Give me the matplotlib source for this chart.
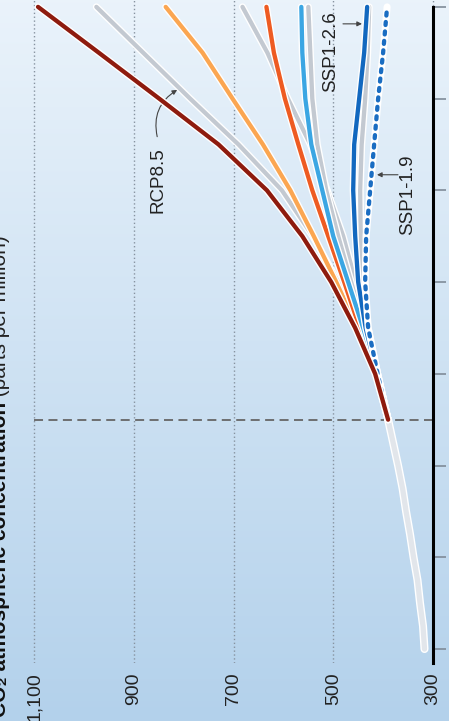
import matplotlib
matplotlib.use("Agg")
import matplotlib.pyplot as plt
import matplotlib.patheffects as pe
import numpy as np

plt.rcParams['font.family'] = ['Liberation Sans', 'DejaVu Sans']

# observed record
years_hist = [1960, 1965, 1970, 1975, 1980, 1985, 1990, 1995, 2000, 2005, 2010]
co2_hist = [317, 320, 326, 331, 339, 346, 354, 361, 370, 380, 390]

# scenario projections, one value per decade
years_proj = [2010, 2020, 2030, 2040, 2050, 2060, 2070, 2080, 2090, 2100]
ssp585 = [390, 416, 456, 504, 562, 633, 730, 849, 970, 1092]
rcp85 = [390, 414, 449, 490, 541, 603, 690, 787, 881, 975]
ssp370 = [390, 415, 452, 494, 539, 586, 641, 702, 762, 836]
rcp60 = [390, 411, 432, 455, 480, 512, 546, 591, 632, 682]
ssp245 = [390, 413, 447, 478, 510, 542, 570, 597, 619, 634]
ssp434 = [390, 412, 440, 470, 500, 522, 544, 556, 562, 564]
rcp45 = [390, 412, 438, 464, 490, 514, 532, 542, 546, 550]
ssp126 = [390, 412, 435, 450, 456, 460, 458, 448, 438, 432]
rcp26 = [390, 411, 430, 441, 445, 446, 443, 436, 431, 428]
ssp119 = [390, 411, 430, 436, 434, 426, 418, 410, 400, 392]

co2_ticks = [300, 500, 700, 900, 1100]
co2_labels = ['300', '500', '700', '900', '1,100']
year_ticks = list(range(1960, 2101, 20))

fig = plt.figure(figsize=(4.49, 7.21), dpi=100)

# background gradient
bg = fig.add_axes([0, 0, 1, 1])
top = np.array([0.918, 0.953, 0.984])
bot = np.array([0.702, 0.820, 0.922])
t = np.linspace(0, 1, 256).reshape(-1, 1, 1)
bg.imshow(top + (bot - top) * t, aspect='auto', extent=[0, 1, 0, 1])
bg.axis('off')

ax = fig.add_axes([0, 58 / 721, 1, 663 / 721])
ax.patch.set_alpha(0)
ax.set_xlim(1168.2, 267.9)
ax.set_ylim(1956.95, 2101.5)

for s in ['left', 'top', 'bottom']:
    ax.spines[s].set_visible(False)
ax.spines['right'].set_position(('data', 300))
ax.spines['right'].set_bounds(1956.95, 2100)
ax.spines['right'].set_linewidth(2.2)
ax.spines['right'].set_zorder(5)

ax.yaxis.tick_right()
ax.set_yticks(year_ticks)
ax.tick_params(axis='y', direction='out', length=9.5, width=1.2, color='#7f8b98', labelright=False)

ax.set_xticks(co2_ticks)
ax.set_xticklabels(co2_labels)
ax.tick_params(axis='x', length=0, pad=6.5, labelrotation=90, labelsize=14, labelcolor='#222222')
ax.grid(axis='x', ls=(0, (1, 1.8)), color='#8793a0', lw=1)
ax.set_axisbelow(True)

# start of projections
ax.plot([1100, 300], [2010, 2010], ls=(0, (5, 3)), color='#666666', lw=1.3, zorder=1.5)


def line(x, y, c, lw=3.1, z=3):
    ax.plot(x, y, color=c, lw=lw, solid_capstyle='round', solid_joinstyle='round', zorder=z,
            path_effects=[pe.Stroke(linewidth=lw + 2, foreground='white'), pe.Normal()])


line(co2_hist, years_hist, '#e2e6eb', lw=3.8, z=2)

line(rcp85, years_proj, '#c3c9d1')
line(rcp60, years_proj, '#c3c9d1')
line(rcp45, years_proj, '#c3c9d1')
line(rcp26, years_proj, '#c3c9d1')
line(ssp370, years_proj, '#fba651', z=4)
line(ssp245, years_proj, '#ee5b22', z=4)
line(ssp434, years_proj, '#3ba6e3', z=4)
line(ssp126, years_proj, '#1268bf', z=4)

ax.plot(ssp119, years_proj, color='white', lw=5.1, solid_capstyle='round', zorder=4)
ax.plot(ssp119, years_proj, color='#1a6dc2', lw=3.1, ls=(0, (0.7, 1.5)),
        dash_capstyle='round', zorder=4.1)

line(ssp585, years_proj, '#8e1b0e', z=4.5)

# labels
ax.text(851, 2062.3, 'RCP8.5', rotation=90, ha='center', va='center', fontsize=13.5, color='#222222')
ax.annotate('', xy=(813, 2081.9), xytext=(853, 2071.7),
            arrowprops=dict(arrowstyle='-|>', color='#444444', lw=0.8, shrinkA=0, shrinkB=0,
                            mutation_scale=7, connectionstyle='arc3,rad=-0.35'))

ax.text(504.5, 2090.2, 'SSP1-2.6', rotation=90, ha='center', va='center', fontsize=13.5, color='#222222')
ax.annotate('', xy=(442.4, 2096.3), xytext=(480.5, 2096.3),
            arrowprops=dict(arrowstyle='-|>', color='#444444', lw=0.8, shrinkA=0, shrinkB=0,
                            mutation_scale=7))

ax.text(350.1, 2059.0, 'SSP1-1.9', rotation=90, ha='center', va='center', fontsize=13.5, color='#222222')
ax.annotate('', xy=(412.3, 2063.4), xytext=(370.2, 2063.4),
            arrowprops=dict(arrowstyle='-|>', color='#444444', lw=0.8, shrinkA=0, shrinkB=0,
                            mutation_scale=7))

# title down the left edge
t1 = fig.text(6 / 449, 4 / 721, 'CO₂ atmospheric concentration', rotation=90, rotation_mode='anchor',
              ha='left', va='baseline', fontsize=15, fontweight='bold', color='#111111')
fig.canvas.draw()
bb = t1.get_window_extent()
fig.text(6 / 449, bb.y1 / (7.21 * 100), ' (parts per million)', rotation=90, rotation_mode='anchor',
         ha='left', va='baseline', fontsize=15, color='#222222')

fig.savefig('out.png', dpi=100)
